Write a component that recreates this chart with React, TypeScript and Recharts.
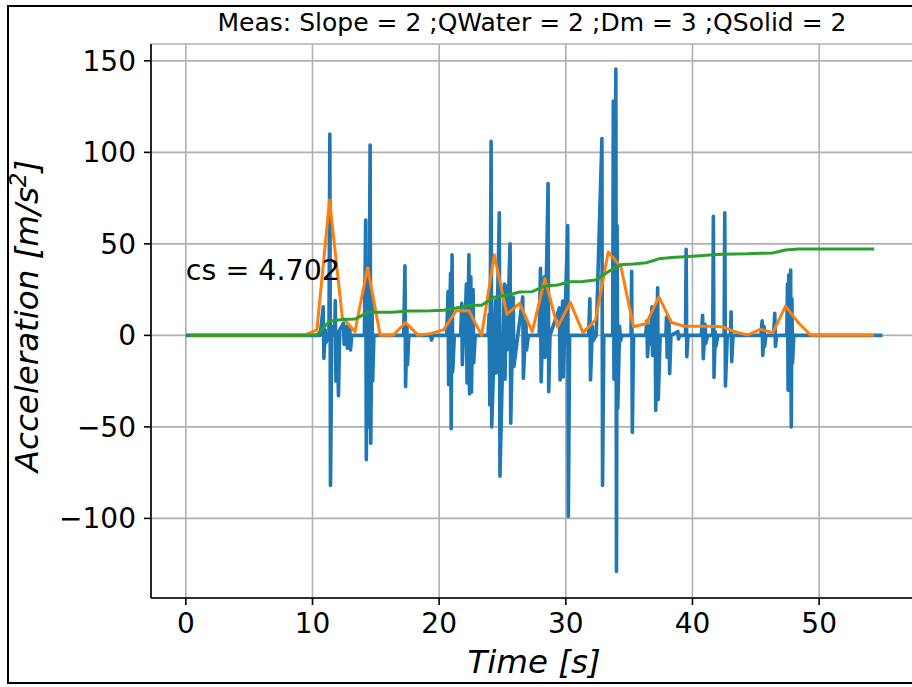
import React from 'react';
import { LineChart, Line, XAxis, YAxis, CartesianGrid, ReferenceDot } from 'recharts';

const FONT = '"DejaVu Sans", "Liberation Sans", sans-serif';

// Raw acceleration signal (time in s, acceleration in m/s^2)
const blueTime = [
  0, 10.6, 10.85, 10.9, 11.0, 11.05, 11.3, 11.37, 11.42, 11.47, 11.52, 11.75, 11.8, 11.85, 11.95, 12.05, 12.15,
  12.45, 12.5, 12.7, 12.75, 12.95, 13.0, 13.1, 14.1, 14.2, 14.25, 14.35, 14.42, 14.55, 14.6, 14.7, 14.75, 14.85,
  17.2, 17.3, 17.35, 17.45, 17.5, 17.6, 19.3, 19.4, 19.5, 20.6, 20.7, 20.75, 20.9, 20.95, 21.02, 21.07, 21.2,
  21.7, 21.78, 21.83, 21.95, 22.0, 22.15, 22.2, 22.35, 22.4, 22.5, 22.55, 22.68, 22.73, 22.85, 23.85, 23.95,
  24.0, 24.1, 24.15, 24.45, 24.5, 24.75, 24.8, 25.15, 25.2, 25.3, 25.35, 25.6, 25.65, 25.85, 25.9, 26.6, 26.65,
  26.85, 26.9, 27.05, 27.9, 28.0, 28.05, 28.3, 28.35, 28.6, 28.65, 28.75, 29.5, 29.55, 29.75, 29.8, 29.9, 30.15,
  30.2, 30.3, 31.8, 31.9, 31.95, 32.1, 32.15, 32.4, 32.85, 32.9, 33.0, 33.7, 33.75, 33.8, 33.95, 34.0, 34.05,
  34.1, 34.25, 34.3, 34.45, 35.15, 35.2, 35.25, 35.35, 36.3, 36.4, 36.45, 36.6, 36.65, 36.8, 36.85, 37.05, 37.1,
  37.25, 37.3, 37.45, 37.9, 37.95, 38.0, 38.15, 38.2, 38.3, 38.85, 38.9, 39.0, 39.45, 39.5, 39.55, 39.65, 40.7,
  40.8, 40.85, 41.0, 41.05, 41.2, 41.6, 41.65, 41.7, 41.8, 41.85, 42.0, 42.5, 42.55, 42.6, 42.75, 43.0, 43.05,
  43.1, 43.2, 45.4, 45.5, 45.55, 45.65, 45.7, 45.8, 46.4, 46.5, 46.55, 46.65, 47.45, 47.5, 47.55, 47.6, 47.65,
  47.75, 47.8, 47.85, 47.9, 48.0, 55.0,
];
const blueAccel = [
  0, 0, 15.6, -12.6, 3, -4, 0, 110, -82, -44, 5, 0, 19, -25, 2, -33, 3,
  6.7, -5, 5, -7, 4, -8, 0, 0, 63, -68, 30, -50, 104, -59, 20, -25, 0,
  0, 38, -28, 5, -16, 0, 0, -2.6, 0, 0, 24, -27, 34, -51, 44, -20, 0,
  0, 17.5, -16, 5, -3, 28, -26, 44, -32, 32, -31, 25, -15, 0, 0, 11.6,
  -38, 106, -50, 19, -20.6, 67, -77, 28, -24, 27, -8, 50, -48, 21, -17, 21, -23.5,
  8, -8, 0, 0, 36.6, -25.4, 32, -12, 83, -30.8, 0, 15, -24.4, 18.8, -22.7, 0, 60,
  -99, 0, 0, 20, -24.4, 5, -3, 0, 107.5, -82, 0, 0, 128, -24, 145.5, -129, 60,
  -40, 5, -3, 0, 0, 35, -53, 0, 0, 8, -11.6, 5, -5, 15.6, -11, 15, -41,
  26, -35, 0, 0, 10, -12, 8, -21, 0, 2, -2, 0, 0, 47, -11.7, 0, 0,
  11, -12.8, 6, -4.4, 0, 0, 65, -23, 2, -6, 0, 0, 67, -27.7, 0, 0, 12.9,
  -14.4, 0, 0, 8, -11, 5, -6, 0, 0, 12, -6, 0, 0, 28, -30, 33, -29,
  35.7, -50, 20, -15, 0, 0,
];

// One-second window values
const windowTime = [
  0.35, 1.35, 2.35, 3.35, 4.35, 5.35, 6.35, 7.35, 8.35, 9.35, 10.35, 11.35, 12.35, 13.35, 14.35, 15.35, 16.35,
  17.35, 18.35, 19.35, 20.35, 21.35, 22.35, 23.35, 24.35, 25.35, 26.35, 27.35, 28.35, 29.35, 30.35, 31.35, 32.35,
  33.35, 34.35, 35.35, 36.35, 37.35, 38.35, 39.35, 40.35, 41.35, 42.35, 43.35, 44.35, 45.35, 46.35, 47.35, 48.35,
  49.35, 50.35, 51.35, 52.35, 53.35, 54.35,
];
const windowPeak = [
  0, 0, 0, 0, 0, 0, 0, 0, 0, 0, 3, 74, 10, 2, 37, 0, 0, 7, 0, 1, 3, 13.5, 13.5, 0, 44, 11.5, 17.5, 2, 31, 4.5,
  18, 1.5, 8.5, 45.5, 37.5, 4.7, 6.5, 21, 7, 5, 5, 5, 4.7, 2, 0.2, 3.3, 1.5, 16, 7, 0, 0, 0, 0, 0, 0,
];
const windowCumulative = [
  0, 0, 0, 0, 0, 0, 0, 0, 0, 0, 0.3, 7.7, 8.7, 8.9, 12.6, 12.6, 12.6, 13.3, 13.3, 13.4, 13.7, 15.0, 16.4, 16.4,
  20.8, 21.9, 23.7, 23.9, 27.0, 27.5, 29.3, 29.4, 30.3, 34.8, 38.6, 39.0, 39.7, 41.8, 42.5, 43.0, 43.4, 43.9,
  44.3, 44.5, 44.6, 44.9, 45.0, 46.6, 47.2, 47.2, 47.2, 47.2, 47.2, 47.2, 47.2,
];

const xTicks = [0, 10, 20, 30, 40, 50];
const yTicks = [-100, -50, 0, 50, 100, 150];
const titleText = 'Meas: Slope = 2 ;QWater = 2 ;Dm = 3 ;QSolid = 2';
const csLabel = 'cs = 4.702';
const csTime = 0;
const csValue = 30;

const blueData = blueTime.map((t, i) => ({ t, a: blueAccel[i] }));
const peakData = windowTime.map((t, i) => ({ t, p: windowPeak[i] }));
const cumData = windowTime.map((t, i) => ({ t, c: windowCumulative[i] }));

const fmt = (v: number) => (v < 0 ? '\u2212' + Math.abs(v) : String(v));

const CsText = (props: any) => {
  const vb = props.viewBox || {};
  return (
    <text x={vb.x} y={vb.y} fontSize={28.5} fontFamily={FONT} fill="#000" textAnchor="start">
      {csLabel}
    </text>
  );
};

export default function App() {
  return (
    <div style={{ position: 'absolute', left: 0, top: 0, width: 912, height: 687, overflow: 'hidden', background: '#fff' }}>
      <LineChart width={920} height={687} margin={{ top: 44, right: 2.7, bottom: 49, left: 0 }}>
        <CartesianGrid stroke="#b0b0b0" strokeWidth={1.6} />
        <XAxis
          dataKey="t"
          type="number"
          domain={[-2.75, 57.75]}
          ticks={xTicks}
          interval={0}
          allowDataOverflow
          height={40}
          tickSize={7}
          tickMargin={8}
          stroke="#000"
          strokeWidth={1.6}
          tick={{ fontSize: 28, fill: '#000', fontFamily: FONT }}
        />
        <XAxis
          xAxisId="top"
          orientation="top"
          type="number"
          domain={[-2.75, 57.75]}
          height={0}
          tick={false}
          tickLine={false}
          stroke="#000"
          strokeWidth={1.6}
        />
        <YAxis
          type="number"
          domain={[-143.5, 159.2]}
          ticks={yTicks}
          interval={0}
          allowDataOverflow
          width={151}
          tickSize={7}
          tickMargin={8}
          stroke="#000"
          strokeWidth={1.6}
          tickFormatter={fmt}
          tick={{ fontSize: 28, fill: '#000', fontFamily: FONT }}
        />
        <Line data={blueData} dataKey="a" stroke="#1f77b4" strokeWidth={3.6} dot={false} isAnimationActive={false} strokeLinejoin="round" />
        <Line data={peakData} dataKey="p" stroke="#ff7f0e" strokeWidth={3} dot={false} isAnimationActive={false} strokeLinejoin="round" />
        <Line data={cumData} dataKey="c" stroke="#2ca02c" strokeWidth={3} dot={false} isAnimationActive={false} strokeLinejoin="round" />
        <ReferenceDot x={csTime} y={csValue} r={0} fill="none" stroke="none" label={{ content: CsText }} />
      </LineChart>
      <svg width={912} height={687} style={{ position: 'absolute', left: 0, top: 0, pointerEvents: 'none' }}>
        <rect x={8} y={6} width={1000} height={677} fill="none" stroke="#000" strokeWidth={2} />
        <text x={532} y={31} textAnchor="middle" fontSize={25} fontFamily={FONT} fill="#000">{titleText}</text>
        <text x={534} y={673} textAnchor="middle" fontSize={32.5} fontStyle="italic" fontFamily={FONT} fill="#000">Time [s]</text>
        <text x={38} y={316} transform="rotate(-90 38 316)" textAnchor="middle" fontSize={32.5} fontStyle="italic" fontFamily={FONT} fill="#000">
          Acceleration [m/s<tspan dy={-12} fontSize={23}>2</tspan><tspan dy={12}>]</tspan>
        </text>
      </svg>
    </div>
  );
}
